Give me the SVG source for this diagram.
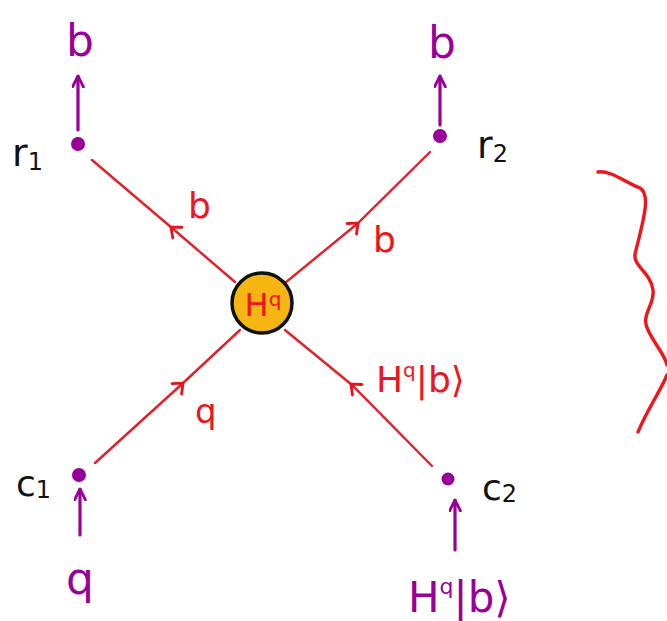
<svg xmlns="http://www.w3.org/2000/svg" width="667" height="621" viewBox="0 0 667 621">
<defs>
<marker id="ap" viewBox="0 0 12 12" refX="11" refY="6" markerWidth="13" markerHeight="13" markerUnits="userSpaceOnUse" orient="auto">
<path d="M1,1 L11,6 L1,11" fill="none" stroke="#990099" stroke-width="2.6" stroke-linecap="round" stroke-linejoin="round"/>
</marker>
<marker id="ar" viewBox="0 0 12 12" refX="6" refY="6" markerWidth="17" markerHeight="17" markerUnits="userSpaceOnUse" orient="auto">
<path d="M1,1 L7,6 L1,11" fill="none" stroke="#e8121c" stroke-width="2" stroke-linecap="round" stroke-linejoin="round"/>
</marker>
</defs>
<style>
.edge{fill:none;stroke:#e3202a;stroke-width:2.4;stroke-linecap:round;marker-mid:url(#ar)}
.in{fill:none;stroke:#990099;stroke-width:3.2;stroke-linecap:round;marker-end:url(#ap)}
.dot{fill:#990099}
.pl{fill:#990099;font-family:"DejaVu Sans",sans-serif}
.rl{fill:#f0141c;font-family:"DejaVu Sans",sans-serif}
.bl{fill:#111;font-family:"DejaVu Sans",sans-serif}
</style>
<rect width="667" height="621" fill="#ffffff"/>
<g id="connectors">
<polyline class="edge" points="235,282 172,228 92,160"/>
<polyline class="edge" points="285,283 357,224 430,152"/>
<polyline class="edge" points="95,463 182,384 240,330"/>
<polyline class="edge" points="432,466 352,385 285,330"/>
<line class="in" x1="78" y1="130" x2="78" y2="76"/>
<line class="in" x1="440" y1="125" x2="440" y2="76"/>
<line class="in" x1="80" y1="535" x2="80" y2="489"/>
<line class="in" x1="455" y1="550" x2="455" y2="500"/>
</g>
<g id="edge-labels">
<text class="rl" x="188" y="218" font-size="36">b</text>
<text class="rl" x="373" y="252" font-size="36">b</text>
<text class="rl" x="195" y="423" font-size="34">q</text>
<text class="rl" x="376" y="392" font-size="36">H<tspan font-size="20" dy="-15">q</tspan><tspan dy="15">|b⟩</tspan></text>
</g>
<g id="node-center">
<circle cx="262" cy="303" r="30" fill="#f5b512" stroke="#111" stroke-width="3.5"/>
<text class="rl" x="263" y="316" font-size="32" text-anchor="middle">H<tspan font-size="20" dy="-10">q</tspan></text>
</g>
<g id="node-r1">
<circle class="dot" cx="78" cy="144" r="7"/>
<text class="bl" x="12" y="166" font-size="38">r<tspan font-size="24" dy="4">1</tspan></text>
<text class="pl" x="80" y="56" font-size="44" text-anchor="middle">b</text>
</g>
<g id="node-r2">
<circle class="dot" cx="440" cy="136" r="7"/>
<text class="bl" x="477" y="158" font-size="38">r<tspan font-size="24" dy="4">2</tspan></text>
<text class="pl" x="442" y="58" font-size="44" text-anchor="middle">b</text>
</g>
<g id="node-c1">
<circle class="dot" cx="79" cy="475" r="7"/>
<text class="bl" x="16" y="496" font-size="36">c<tspan font-size="24" dy="2">1</tspan></text>
<text class="pl" x="80" y="594" font-size="44" text-anchor="middle">q</text>
</g>
<g id="node-c2">
<circle class="dot" cx="448" cy="479" r="6.5"/>
<text class="bl" x="482" y="500" font-size="36">c<tspan font-size="24" dy="2">2</tspan></text>
<text class="pl" x="408" y="612" font-size="42">H<tspan font-size="22" dy="-18">q</tspan><tspan dy="18">|b⟩</tspan></text>
</g>
<path d="M598,172 C610,170 625,182 640,188 C650,194 645,215 636,250 C630,266 650,270 653,290 C655,305 640,315 648,330 C655,345 665,355 667,365 M667,375 C660,392 648,408 638,432" fill="none" stroke="#f0141c" stroke-width="3.4" stroke-linecap="round"/>
</svg>
